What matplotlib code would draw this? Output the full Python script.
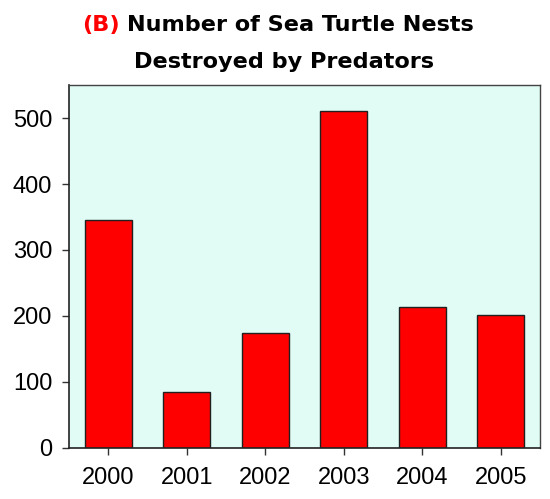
import matplotlib
matplotlib.use("Agg")
import matplotlib.pyplot as plt
import numpy as np

# Data
years = ['2000', '2001', '2002', '2003', '2004', '2005']
nests_destroyed = [346, 85, 174, 511, 213, 201]
y_ticks = [0, 100, 200, 300, 400, 500]

plt.rcParams['font.family'] = ['Liberation Sans', 'DejaVu Sans']

fig = plt.figure(figsize=(5.5, 4.99), dpi=100)
W, H = 550, 499
ax = fig.add_axes([69 / W, 1 - 448 / H, (540 - 69) / W, (448 - 85) / H])
ax.set_facecolor('#e0fcf4')

x = np.arange(len(years))
ax.bar(x, nests_destroyed, width=0.6, color='#ff0000', edgecolor='#202020', linewidth=1)

ax.set_xlim(-0.5, len(years) - 0.5)
ax.set_ylim(0, 550)
ax.set_xticks(x)
ax.set_xticklabels(years)
ax.set_yticks(y_ticks)
ax.tick_params(axis='both', labelsize=17, length=5, width=1, color='#333333')
ax.tick_params(axis='x', pad=9)
ax.tick_params(axis='y', pad=7)
for side in ['left', 'bottom']:
    ax.spines[side].set_color('#222222')
    ax.spines[side].set_linewidth(1.2)
for side in ['top', 'right']:
    ax.spines[side].set_color('#444444')
    ax.spines[side].set_linewidth(1)

# Title, with red "(B)"
title_font = dict(fontsize=16, fontweight='bold', family=['DejaVu Sans'])
t1 = fig.text(82 / W, 1 - 25 / H, '(B)', color='#ff0000', ha='left', va='center', **title_font)
t2 = fig.text(0, 1 - 25 / H, 'Number of Sea Turtle Nests', color='black',
              ha='left', va='center', **title_font)
t3 = fig.text(284 / W, 1 - 62 / H, 'Destroyed by Predators', color='black',
              ha='center', va='center', **title_font)

# fit first title line to span about 82..475 px
fig.canvas.draw()
r = fig.canvas.get_renderer()
gap = 7
total = t1.get_window_extent(r).width + gap + t2.get_window_extent(r).width
scale = (475 - 82) / total
for t in (t1, t2, t3):
    t.set_fontsize(16 * scale)
fig.canvas.draw()
bb = t1.get_window_extent(r)
t2.set_x((bb.x1 + gap) / W)

fig.savefig('out.png', dpi=100)
